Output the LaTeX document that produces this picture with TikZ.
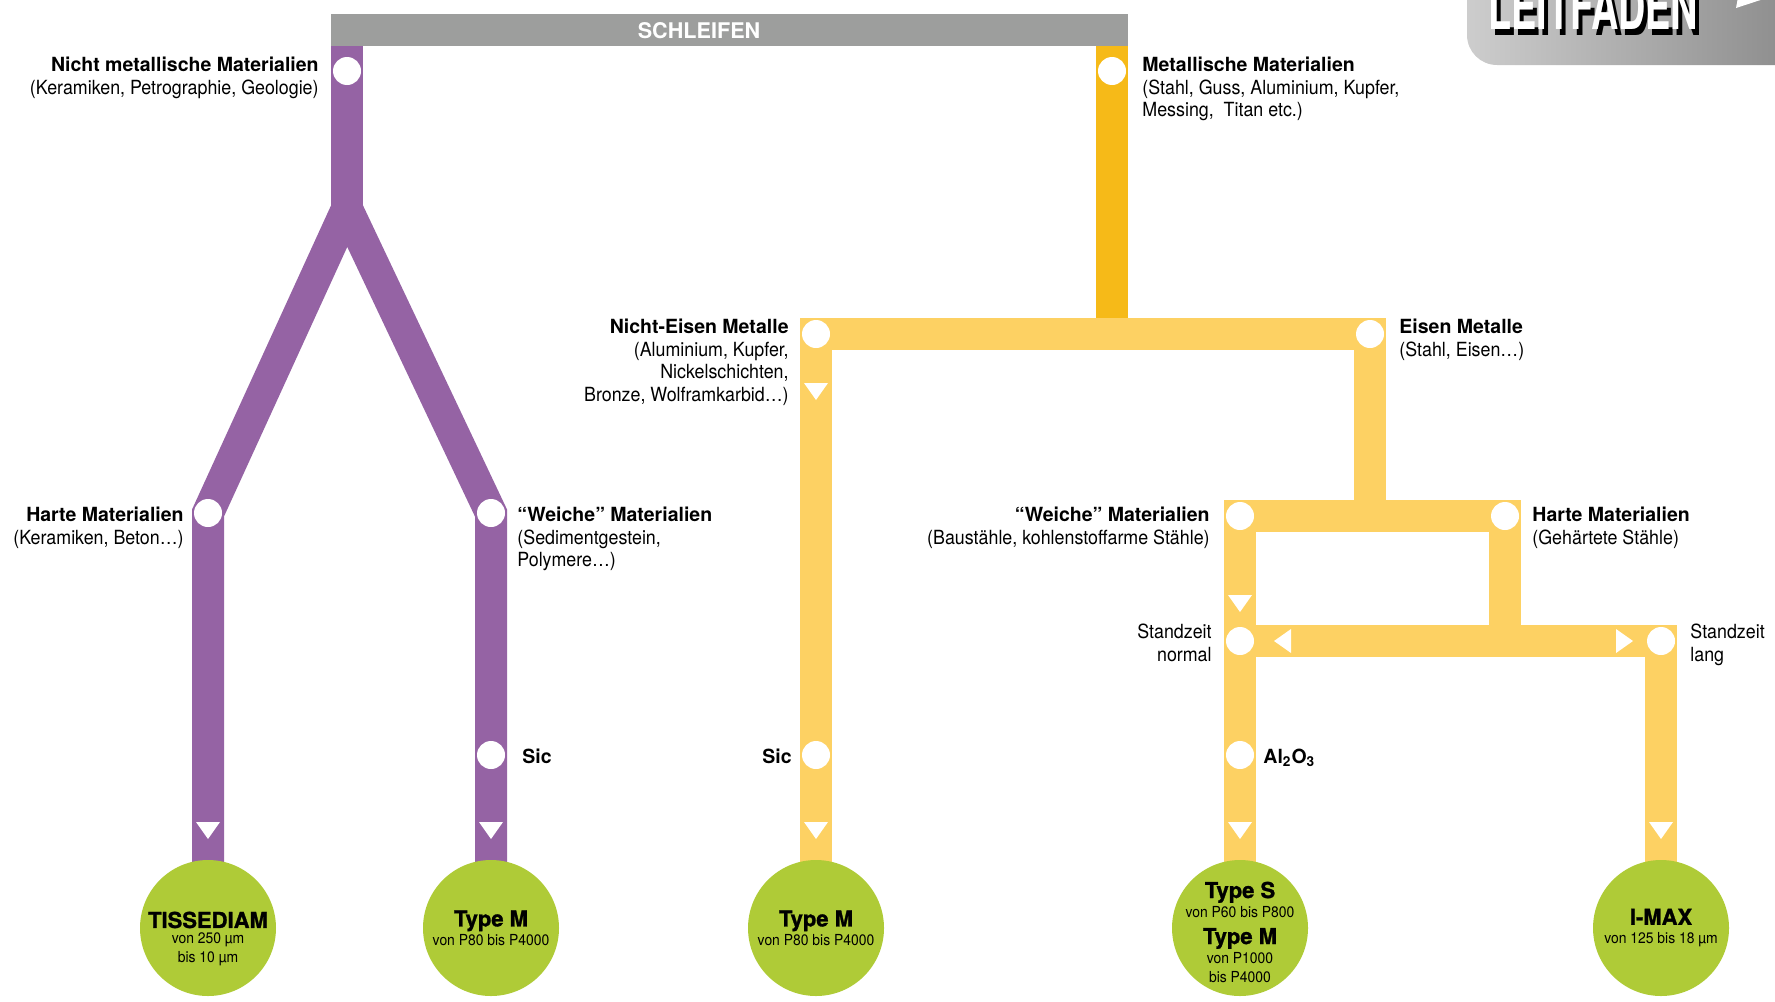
\documentclass[tikz,border=0pt]{standalone}
\usepackage{fontspec}
\setmainfont{TeX Gyre Heros}[UprightFeatures={FakeStretch=0.915}]
\newfontfamily\blackfont{TeX Gyre Heros}[BoldFeatures={FakeBold=1.2}]
\usetikzlibrary{backgrounds}

\definecolor{lila}{HTML}{9563A4}
\definecolor{gold}{HTML}{F6BA18}
\definecolor{sand}{HTML}{FDD163}
\definecolor{stone}{HTML}{9D9E9D}
\definecolor{lime}{HTML}{AFCB37}
\definecolor{tableft}{HTML}{CDCDCD}
\definecolor{tabright}{HTML}{858585}

\newcommand\prodname[1]{{\blackfont\bfseries\fontsize{11}{9.5}\selectfont #1}}
\newcommand\tabword{\scalebox{0.61}[1]{LEITFADEN}}

\begin{document}
\begin{tikzpicture}[
  x=0.5pt, y=-0.5pt,
  every node/.style={inner sep=0pt},
  stop/.style={circle, fill=white, minimum size=14pt},
  product/.style={circle, fill=lime, minimum size=68pt},
  prodtext/.style={align=center, font=\fontsize{7.6}{9.5}\selectfont},
  lblleft/.style={anchor=north east, align=right, font=\fontsize{9.75}{11.25}\selectfont},
  lblright/.style={anchor=north west, align=left, font=\fontsize{9.75}{11.25}\selectfont},
  lilaline/.style={draw=lila, line width=16pt},
  goldline/.style={draw=gold, line width=16pt},
  sandline/.style={draw=sand, line width=16pt},
  tri/.pic={\fill[white] (-12,-8) -- (12,-8) -- (0,9) -- cycle;}
]
  \useasboundingbox (0,0) rectangle (1775,1001);

  \shade[left color=tableft, right color=tabright, rounded corners=15pt] (1467,-60) rectangle (1830,65);
  \fill[white] (1736,8) -- (1785,-8) -- (1745,-40) -- cycle;
  \node[anchor=base west, font=\fontsize{31}{31}\selectfont\bfseries, text=white] (leitfaden) at (1488,29)
    {\rlap{\kern2pt\raisebox{-3pt}{\color{black}\tabword}}\tabword};

  \node[fill=stone, minimum width=398.5pt, minimum height=16pt] (bar) at (729.5,30) {};
  \node[font=\fontsize{10.8}{12}\selectfont\bfseries, text=white] (schleifen) at (699,31) {SCHLEIFEN};

  \node[stop] (nm) at (347,71) {};
  \node[stop] (met) at (1112,71) {};
  \node[stop] (hartp) at (208,513) {};
  \node[stop] (weichp) at (491,513) {};
  \node[stop] (sicp) at (491,755) {};
  \node[stop] (ne) at (816,334) {};
  \node[stop] (fe) at (1370,334) {};
  \node[stop] (weichm) at (1240,516) {};
  \node[stop] (hartm) at (1505,516) {};
  \node[stop] (normal) at (1240,641) {};
  \node[stop] (lang) at (1661,641) {};
  \node[stop] (sicm) at (816,755) {};
  \node[stop] (alox) at (1240,755) {};
  \coordinate (fork) at (347,209);

  \node[product] (tisse) at (208,928) {};
  \node[product] (typem1) at (491,928) {};
  \node[product] (typem2) at (816,928) {};
  \node[product] (typesm) at (1240,928) {};
  \node[product] (imax) at (1661,928) {};
  \node[prodtext] (tissetext) at (208,939) {\prodname{TISSEDIAM}\\[-1.5pt]von 250~µm\\bis 10~µm};
  \node[prodtext] (typem1text) at (491,928) {\prodname{Type M}\\von P80 bis P4000};
  \node[prodtext] (typem2text) at (816,928) {\prodname{Type M}\\von P80 bis P4000};
  \node[prodtext] (typesmtext) at (1240,932) {\prodname{Type S}\\von P60 bis P800\\[4pt]\prodname{Type M}\\von P1000\\bis P4000};
  \node[prodtext] (imaxtext) at (1661,928) {\prodname{I-MAX}\\von 125 bis 18~µm};

  \pic at (208,830) {tri};
  \pic at (491,830) {tri};
  \pic at (816,391) {tri};
  \pic at (816,830) {tri};
  \pic at (1240,603) {tri};
  \pic at (1240,830) {tri};
  \pic at (1661,830) {tri};
  \pic[rotate=-90] at (1283,641) {tri};
  \pic[rotate=90] at (1624,641) {tri};

  \node[lblleft] (nmlabel) at (319,57) {\textbf{Nicht metallische Materialien}\\(Keramiken, Petrographie, Geologie)};
  \node[lblright] (metlabel) at (1142,57) {\textbf{Metallische Materialien}\\(Stahl, Guss, Aluminium, Kupfer,\\Messing, \ Titan etc.)};
  \node[lblleft] (nelabel) at (789,319) {\textbf{Nicht-Eisen Metalle}\\(Aluminium, Kupfer,\\Nickelschichten,\\Bronze, Wolframkarbid…)};
  \node[lblright] (felabel) at (1399,319) {\textbf{Eisen Metalle}\\(Stahl, Eisen…)};
  \node[lblleft] (hartplabel) at (184,507) {\textbf{Harte Materialien}\\(Keramiken, Beton…)};
  \node[lblright] (weichplabel) at (517,507) {\textbf{“Weiche” Materialien}\\(Sedimentgestein,\\Polymere…)};
  \node[lblleft] (weichmlabel) at (1210,507) {\textbf{“Weiche” Materialien}\\(Baustähle, kohlenstoffarme Stähle)};
  \node[lblright] (hartmlabel) at (1532,507) {\textbf{Harte Materialien}\\(Gehärtete Stähle)};
  \node[lblleft] (normallabel) at (1212,624) {Standzeit\\normal};
  \node[lblright] (langlabel) at (1690,624) {Standzeit\\lang};
  \node[lblright] (sicplabel) at (522,749) {\textbf{Sic}};
  \node[lblleft] (sicmlabel) at (792,749) {\textbf{Sic}};
  \node[lblright] (aloxlabel) at (1263,749) {\textbf{Al\textsubscript{2}O\textsubscript{3}}};

  \begin{pgfonlayer}{background}
    \draw[lilaline] (nm.center |- bar.south) -- (fork);
    \draw[lilaline] (tisse.center) -- (hartp.center) -- (fork) -- (weichp.center) -- (typem1.center);
    \draw[goldline] (met.center |- bar.south) -- (met.center |- ne.center);
    \draw[sandline] (typem2.center) -- (ne.center) -- (fe.center) -- (fe.center |- weichm.center);
    \draw[sandline] (typesm.center) -- (weichm.center) -- (hartm.center) -- (hartm.center |- normal.center);
    \draw[sandline] (normal.center) -- (lang.center) -- (imax.center);
  \end{pgfonlayer}
\end{tikzpicture}
\end{document}
